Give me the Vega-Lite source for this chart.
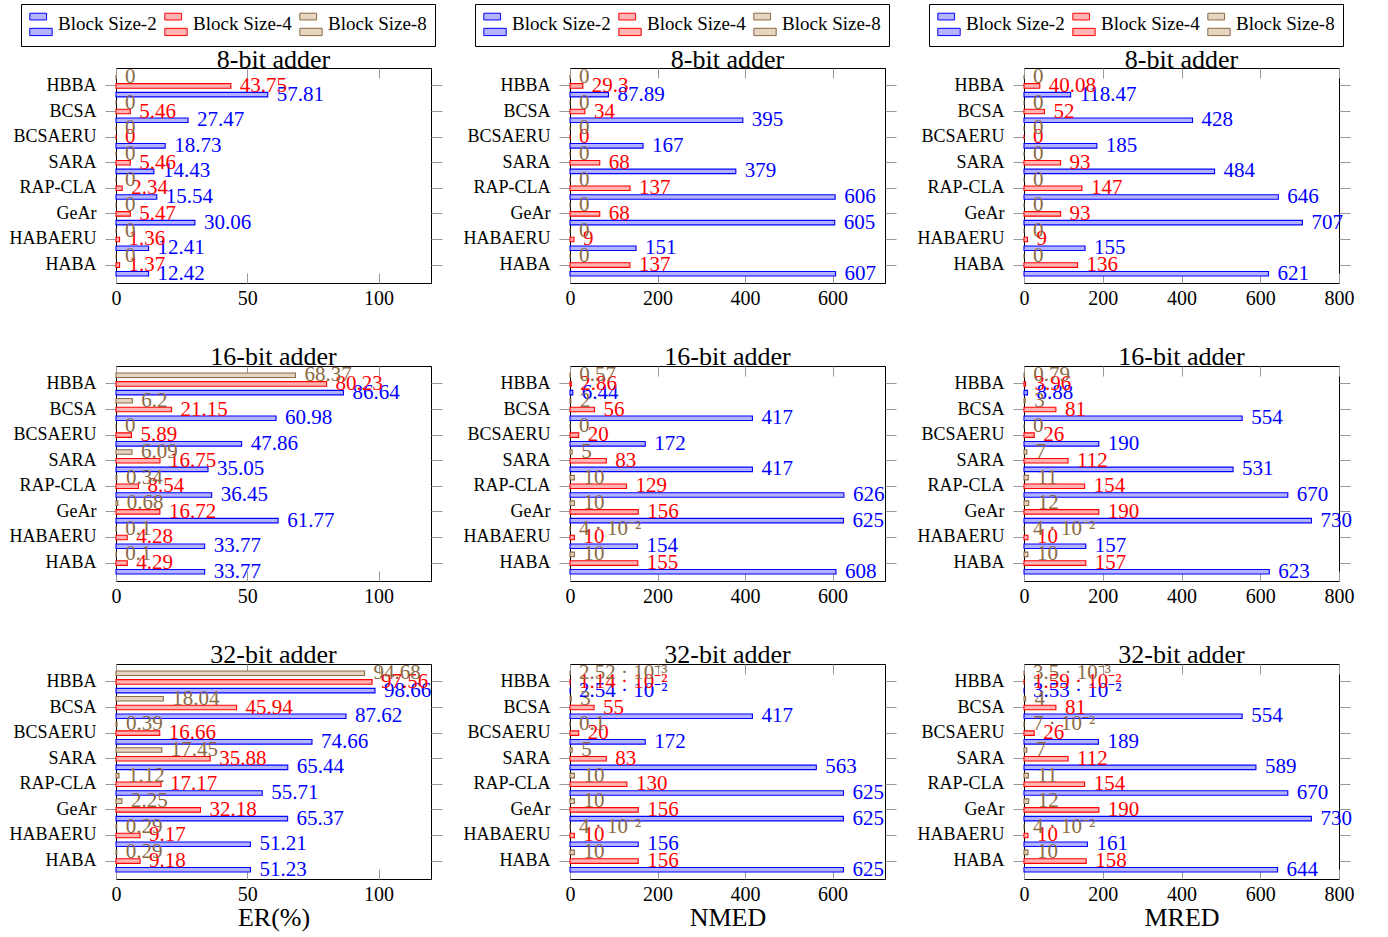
{
"$schema":"https://vega.github.io/schema/vega-lite/v6.json",
"background":"white",
"padding":{"left":8,"top":3,"right":10,"bottom":2},
"datasets":{"d":[
{"p":"E8","a":"HBBA","s":"Block Size-2","v":57.81,"t":"57.81"},{"p":"E8","a":"HBBA","s":"Block Size-4","v":43.75,"t":"43.75"},{"p":"E8","a":"HBBA","s":"Block Size-8","v":0,"t":"0"},
{"p":"E8","a":"BCSA","s":"Block Size-2","v":27.47,"t":"27.47"},{"p":"E8","a":"BCSA","s":"Block Size-4","v":5.46,"t":"5.46"},{"p":"E8","a":"BCSA","s":"Block Size-8","v":0,"t":"0"},
{"p":"E8","a":"BCSAERU","s":"Block Size-2","v":18.73,"t":"18.73"},{"p":"E8","a":"BCSAERU","s":"Block Size-4","v":0,"t":"0"},{"p":"E8","a":"BCSAERU","s":"Block Size-8","v":0,"t":"0"},
{"p":"E8","a":"SARA","s":"Block Size-2","v":14.43,"t":"14.43"},{"p":"E8","a":"SARA","s":"Block Size-4","v":5.46,"t":"5.46"},{"p":"E8","a":"SARA","s":"Block Size-8","v":0,"t":"0"},
{"p":"E8","a":"RAP-CLA","s":"Block Size-2","v":15.54,"t":"15.54"},{"p":"E8","a":"RAP-CLA","s":"Block Size-4","v":2.34,"t":"2.34"},{"p":"E8","a":"RAP-CLA","s":"Block Size-8","v":0,"t":"0"},
{"p":"E8","a":"GeAr","s":"Block Size-2","v":30.06,"t":"30.06"},{"p":"E8","a":"GeAr","s":"Block Size-4","v":5.47,"t":"5.47"},{"p":"E8","a":"GeAr","s":"Block Size-8","v":0,"t":"0"},
{"p":"E8","a":"HABAERU","s":"Block Size-2","v":12.41,"t":"12.41"},{"p":"E8","a":"HABAERU","s":"Block Size-4","v":1.36,"t":"1.36"},{"p":"E8","a":"HABAERU","s":"Block Size-8","v":0,"t":"0"},
{"p":"E8","a":"HABA","s":"Block Size-2","v":12.42,"t":"12.42"},{"p":"E8","a":"HABA","s":"Block Size-4","v":1.37,"t":"1.37"},{"p":"E8","a":"HABA","s":"Block Size-8","v":0,"t":"0"},

{"p":"N8","a":"HBBA","s":"Block Size-2","v":87.89,"t":"87.89"},{"p":"N8","a":"HBBA","s":"Block Size-4","v":29.3,"t":"29.3"},{"p":"N8","a":"HBBA","s":"Block Size-8","v":0,"t":"0"},
{"p":"N8","a":"BCSA","s":"Block Size-2","v":395,"t":"395"},{"p":"N8","a":"BCSA","s":"Block Size-4","v":34,"t":"34"},{"p":"N8","a":"BCSA","s":"Block Size-8","v":0,"t":"0"},
{"p":"N8","a":"BCSAERU","s":"Block Size-2","v":167,"t":"167"},{"p":"N8","a":"BCSAERU","s":"Block Size-4","v":0,"t":"0"},{"p":"N8","a":"BCSAERU","s":"Block Size-8","v":0,"t":"0"},
{"p":"N8","a":"SARA","s":"Block Size-2","v":379,"t":"379"},{"p":"N8","a":"SARA","s":"Block Size-4","v":68,"t":"68"},{"p":"N8","a":"SARA","s":"Block Size-8","v":0,"t":"0"},
{"p":"N8","a":"RAP-CLA","s":"Block Size-2","v":606,"t":"606"},{"p":"N8","a":"RAP-CLA","s":"Block Size-4","v":137,"t":"137"},{"p":"N8","a":"RAP-CLA","s":"Block Size-8","v":0,"t":"0"},
{"p":"N8","a":"GeAr","s":"Block Size-2","v":605,"t":"605"},{"p":"N8","a":"GeAr","s":"Block Size-4","v":68,"t":"68"},{"p":"N8","a":"GeAr","s":"Block Size-8","v":0,"t":"0"},
{"p":"N8","a":"HABAERU","s":"Block Size-2","v":151,"t":"151"},{"p":"N8","a":"HABAERU","s":"Block Size-4","v":9,"t":"9"},{"p":"N8","a":"HABAERU","s":"Block Size-8","v":0,"t":"0"},
{"p":"N8","a":"HABA","s":"Block Size-2","v":607,"t":"607"},{"p":"N8","a":"HABA","s":"Block Size-4","v":137,"t":"137"},{"p":"N8","a":"HABA","s":"Block Size-8","v":0,"t":"0"},

{"p":"M8","a":"HBBA","s":"Block Size-2","v":118.47,"t":"118.47"},{"p":"M8","a":"HBBA","s":"Block Size-4","v":40.08,"t":"40.08"},{"p":"M8","a":"HBBA","s":"Block Size-8","v":0,"t":"0"},
{"p":"M8","a":"BCSA","s":"Block Size-2","v":428,"t":"428"},{"p":"M8","a":"BCSA","s":"Block Size-4","v":52,"t":"52"},{"p":"M8","a":"BCSA","s":"Block Size-8","v":0,"t":"0"},
{"p":"M8","a":"BCSAERU","s":"Block Size-2","v":185,"t":"185"},{"p":"M8","a":"BCSAERU","s":"Block Size-4","v":0,"t":"0"},{"p":"M8","a":"BCSAERU","s":"Block Size-8","v":0,"t":"0"},
{"p":"M8","a":"SARA","s":"Block Size-2","v":484,"t":"484"},{"p":"M8","a":"SARA","s":"Block Size-4","v":93,"t":"93"},{"p":"M8","a":"SARA","s":"Block Size-8","v":0,"t":"0"},
{"p":"M8","a":"RAP-CLA","s":"Block Size-2","v":646,"t":"646"},{"p":"M8","a":"RAP-CLA","s":"Block Size-4","v":147,"t":"147"},{"p":"M8","a":"RAP-CLA","s":"Block Size-8","v":0,"t":"0"},
{"p":"M8","a":"GeAr","s":"Block Size-2","v":707,"t":"707"},{"p":"M8","a":"GeAr","s":"Block Size-4","v":93,"t":"93"},{"p":"M8","a":"GeAr","s":"Block Size-8","v":0,"t":"0"},
{"p":"M8","a":"HABAERU","s":"Block Size-2","v":155,"t":"155"},{"p":"M8","a":"HABAERU","s":"Block Size-4","v":9,"t":"9"},{"p":"M8","a":"HABAERU","s":"Block Size-8","v":0,"t":"0"},
{"p":"M8","a":"HABA","s":"Block Size-2","v":621,"t":"621"},{"p":"M8","a":"HABA","s":"Block Size-4","v":136,"t":"136"},{"p":"M8","a":"HABA","s":"Block Size-8","v":0,"t":"0"},

{"p":"E16","a":"HBBA","s":"Block Size-2","v":86.64,"t":"86.64"},{"p":"E16","a":"HBBA","s":"Block Size-4","v":80.23,"t":"80.23"},{"p":"E16","a":"HBBA","s":"Block Size-8","v":68.37,"t":"68.37"},
{"p":"E16","a":"BCSA","s":"Block Size-2","v":60.98,"t":"60.98"},{"p":"E16","a":"BCSA","s":"Block Size-4","v":21.15,"t":"21.15"},{"p":"E16","a":"BCSA","s":"Block Size-8","v":6.2,"t":"6.2"},
{"p":"E16","a":"BCSAERU","s":"Block Size-2","v":47.86,"t":"47.86"},{"p":"E16","a":"BCSAERU","s":"Block Size-4","v":5.89,"t":"5.89"},{"p":"E16","a":"BCSAERU","s":"Block Size-8","v":0,"t":"0"},
{"p":"E16","a":"SARA","s":"Block Size-2","v":35.05,"t":"35.05"},{"p":"E16","a":"SARA","s":"Block Size-4","v":16.75,"t":"16.75"},{"p":"E16","a":"SARA","s":"Block Size-8","v":6.09,"t":"6.09"},
{"p":"E16","a":"RAP-CLA","s":"Block Size-2","v":36.45,"t":"36.45"},{"p":"E16","a":"RAP-CLA","s":"Block Size-4","v":8.54,"t":"8.54"},{"p":"E16","a":"RAP-CLA","s":"Block Size-8","v":0.34,"t":"0.34"},
{"p":"E16","a":"GeAr","s":"Block Size-2","v":61.77,"t":"61.77"},{"p":"E16","a":"GeAr","s":"Block Size-4","v":16.72,"t":"16.72"},{"p":"E16","a":"GeAr","s":"Block Size-8","v":0.68,"t":"0.68"},
{"p":"E16","a":"HABAERU","s":"Block Size-2","v":33.77,"t":"33.77"},{"p":"E16","a":"HABAERU","s":"Block Size-4","v":4.28,"t":"4.28"},{"p":"E16","a":"HABAERU","s":"Block Size-8","v":0.1,"t":"0.1"},
{"p":"E16","a":"HABA","s":"Block Size-2","v":33.77,"t":"33.77"},{"p":"E16","a":"HABA","s":"Block Size-4","v":4.29,"t":"4.29"},{"p":"E16","a":"HABA","s":"Block Size-8","v":0.1,"t":"0.1"},

{"p":"N16","a":"HBBA","s":"Block Size-2","v":6.44,"t":"6.44"},{"p":"N16","a":"HBBA","s":"Block Size-4","v":2.86,"t":"2.86"},{"p":"N16","a":"HBBA","s":"Block Size-8","v":0.57,"t":"0.57"},
{"p":"N16","a":"BCSA","s":"Block Size-2","v":417,"t":"417"},{"p":"N16","a":"BCSA","s":"Block Size-4","v":56,"t":"56"},{"p":"N16","a":"BCSA","s":"Block Size-8","v":2,"t":"2"},
{"p":"N16","a":"BCSAERU","s":"Block Size-2","v":172,"t":"172"},{"p":"N16","a":"BCSAERU","s":"Block Size-4","v":20,"t":"20"},{"p":"N16","a":"BCSAERU","s":"Block Size-8","v":0,"t":"0"},
{"p":"N16","a":"SARA","s":"Block Size-2","v":417,"t":"417"},{"p":"N16","a":"SARA","s":"Block Size-4","v":83,"t":"83"},{"p":"N16","a":"SARA","s":"Block Size-8","v":5,"t":"5"},
{"p":"N16","a":"RAP-CLA","s":"Block Size-2","v":626,"t":"626"},{"p":"N16","a":"RAP-CLA","s":"Block Size-4","v":129,"t":"129"},{"p":"N16","a":"RAP-CLA","s":"Block Size-8","v":10,"t":"10"},
{"p":"N16","a":"GeAr","s":"Block Size-2","v":625,"t":"625"},{"p":"N16","a":"GeAr","s":"Block Size-4","v":156,"t":"156"},{"p":"N16","a":"GeAr","s":"Block Size-8","v":10,"t":"10"},
{"p":"N16","a":"HABAERU","s":"Block Size-2","v":154,"t":"154"},{"p":"N16","a":"HABAERU","s":"Block Size-4","v":10,"t":"10"},{"p":"N16","a":"HABAERU","s":"Block Size-8","v":0.04,"t":"4 · 10⁻²"},
{"p":"N16","a":"HABA","s":"Block Size-2","v":608,"t":"608"},{"p":"N16","a":"HABA","s":"Block Size-4","v":155,"t":"155"},{"p":"N16","a":"HABA","s":"Block Size-8","v":10,"t":"10"},

{"p":"M16","a":"HBBA","s":"Block Size-2","v":8.88,"t":"8.88"},{"p":"M16","a":"HBBA","s":"Block Size-4","v":3.96,"t":"3.96"},{"p":"M16","a":"HBBA","s":"Block Size-8","v":0.79,"t":"0.79"},
{"p":"M16","a":"BCSA","s":"Block Size-2","v":554,"t":"554"},{"p":"M16","a":"BCSA","s":"Block Size-4","v":81,"t":"81"},{"p":"M16","a":"BCSA","s":"Block Size-8","v":3,"t":"3"},
{"p":"M16","a":"BCSAERU","s":"Block Size-2","v":190,"t":"190"},{"p":"M16","a":"BCSAERU","s":"Block Size-4","v":26,"t":"26"},{"p":"M16","a":"BCSAERU","s":"Block Size-8","v":0,"t":"0"},
{"p":"M16","a":"SARA","s":"Block Size-2","v":531,"t":"531"},{"p":"M16","a":"SARA","s":"Block Size-4","v":112,"t":"112"},{"p":"M16","a":"SARA","s":"Block Size-8","v":7,"t":"7"},
{"p":"M16","a":"RAP-CLA","s":"Block Size-2","v":670,"t":"670"},{"p":"M16","a":"RAP-CLA","s":"Block Size-4","v":154,"t":"154"},{"p":"M16","a":"RAP-CLA","s":"Block Size-8","v":11,"t":"11"},
{"p":"M16","a":"GeAr","s":"Block Size-2","v":730,"t":"730"},{"p":"M16","a":"GeAr","s":"Block Size-4","v":190,"t":"190"},{"p":"M16","a":"GeAr","s":"Block Size-8","v":12,"t":"12"},
{"p":"M16","a":"HABAERU","s":"Block Size-2","v":157,"t":"157"},{"p":"M16","a":"HABAERU","s":"Block Size-4","v":10,"t":"10"},{"p":"M16","a":"HABAERU","s":"Block Size-8","v":0.04,"t":"4 · 10⁻²"},
{"p":"M16","a":"HABA","s":"Block Size-2","v":623,"t":"623"},{"p":"M16","a":"HABA","s":"Block Size-4","v":157,"t":"157"},{"p":"M16","a":"HABA","s":"Block Size-8","v":10,"t":"10"},

{"p":"E32","a":"HBBA","s":"Block Size-2","v":98.66,"t":"98.66"},{"p":"E32","a":"HBBA","s":"Block Size-4","v":97.56,"t":"97.56"},{"p":"E32","a":"HBBA","s":"Block Size-8","v":94.68,"t":"94.68"},
{"p":"E32","a":"BCSA","s":"Block Size-2","v":87.62,"t":"87.62"},{"p":"E32","a":"BCSA","s":"Block Size-4","v":45.94,"t":"45.94"},{"p":"E32","a":"BCSA","s":"Block Size-8","v":18.04,"t":"18.04"},
{"p":"E32","a":"BCSAERU","s":"Block Size-2","v":74.66,"t":"74.66"},{"p":"E32","a":"BCSAERU","s":"Block Size-4","v":16.66,"t":"16.66"},{"p":"E32","a":"BCSAERU","s":"Block Size-8","v":0.39,"t":"0.39"},
{"p":"E32","a":"SARA","s":"Block Size-2","v":65.44,"t":"65.44"},{"p":"E32","a":"SARA","s":"Block Size-4","v":35.88,"t":"35.88"},{"p":"E32","a":"SARA","s":"Block Size-8","v":17.45,"t":"17.45"},
{"p":"E32","a":"RAP-CLA","s":"Block Size-2","v":55.71,"t":"55.71"},{"p":"E32","a":"RAP-CLA","s":"Block Size-4","v":17.17,"t":"17.17"},{"p":"E32","a":"RAP-CLA","s":"Block Size-8","v":1.12,"t":"1.12"},
{"p":"E32","a":"GeAr","s":"Block Size-2","v":65.37,"t":"65.37"},{"p":"E32","a":"GeAr","s":"Block Size-4","v":32.18,"t":"32.18"},{"p":"E32","a":"GeAr","s":"Block Size-8","v":2.25,"t":"2.25"},
{"p":"E32","a":"HABAERU","s":"Block Size-2","v":51.21,"t":"51.21"},{"p":"E32","a":"HABAERU","s":"Block Size-4","v":9.17,"t":"9.17"},{"p":"E32","a":"HABAERU","s":"Block Size-8","v":0.29,"t":"0.29"},
{"p":"E32","a":"HABA","s":"Block Size-2","v":51.23,"t":"51.23"},{"p":"E32","a":"HABA","s":"Block Size-4","v":9.18,"t":"9.18"},{"p":"E32","a":"HABA","s":"Block Size-8","v":0.29,"t":"0.29"},

{"p":"N32","a":"HBBA","s":"Block Size-2","v":0.0254,"t":"2.54 · 10⁻²"},{"p":"N32","a":"HBBA","s":"Block Size-4","v":0.0114,"t":"1.14 · 10⁻²"},{"p":"N32","a":"HBBA","s":"Block Size-8","v":0.00252,"t":"2.52 · 10⁻³"},
{"p":"N32","a":"BCSA","s":"Block Size-2","v":417,"t":"417"},{"p":"N32","a":"BCSA","s":"Block Size-4","v":55,"t":"55"},{"p":"N32","a":"BCSA","s":"Block Size-8","v":3,"t":"3"},
{"p":"N32","a":"BCSAERU","s":"Block Size-2","v":172,"t":"172"},{"p":"N32","a":"BCSAERU","s":"Block Size-4","v":20,"t":"20"},{"p":"N32","a":"BCSAERU","s":"Block Size-8","v":0.1,"t":"0.1"},
{"p":"N32","a":"SARA","s":"Block Size-2","v":563,"t":"563"},{"p":"N32","a":"SARA","s":"Block Size-4","v":83,"t":"83"},{"p":"N32","a":"SARA","s":"Block Size-8","v":5,"t":"5"},
{"p":"N32","a":"RAP-CLA","s":"Block Size-2","v":625,"t":"625"},{"p":"N32","a":"RAP-CLA","s":"Block Size-4","v":130,"t":"130"},{"p":"N32","a":"RAP-CLA","s":"Block Size-8","v":10,"t":"10"},
{"p":"N32","a":"GeAr","s":"Block Size-2","v":625,"t":"625"},{"p":"N32","a":"GeAr","s":"Block Size-4","v":156,"t":"156"},{"p":"N32","a":"GeAr","s":"Block Size-8","v":10,"t":"10"},
{"p":"N32","a":"HABAERU","s":"Block Size-2","v":156,"t":"156"},{"p":"N32","a":"HABAERU","s":"Block Size-4","v":10,"t":"10"},{"p":"N32","a":"HABAERU","s":"Block Size-8","v":0.04,"t":"4 · 10⁻²"},
{"p":"N32","a":"HABA","s":"Block Size-2","v":625,"t":"625"},{"p":"N32","a":"HABA","s":"Block Size-4","v":156,"t":"156"},{"p":"N32","a":"HABA","s":"Block Size-8","v":10,"t":"10"},

{"p":"M32","a":"HBBA","s":"Block Size-2","v":0.0353,"t":"3.53 · 10⁻²"},{"p":"M32","a":"HBBA","s":"Block Size-4","v":0.0159,"t":"1.59 · 10⁻²"},{"p":"M32","a":"HBBA","s":"Block Size-8","v":0.0035,"t":"3.5 · 10⁻³"},
{"p":"M32","a":"BCSA","s":"Block Size-2","v":554,"t":"554"},{"p":"M32","a":"BCSA","s":"Block Size-4","v":81,"t":"81"},{"p":"M32","a":"BCSA","s":"Block Size-8","v":4,"t":"4"},
{"p":"M32","a":"BCSAERU","s":"Block Size-2","v":189,"t":"189"},{"p":"M32","a":"BCSAERU","s":"Block Size-4","v":26,"t":"26"},{"p":"M32","a":"BCSAERU","s":"Block Size-8","v":0.07,"t":"7 · 10⁻²"},
{"p":"M32","a":"SARA","s":"Block Size-2","v":589,"t":"589"},{"p":"M32","a":"SARA","s":"Block Size-4","v":112,"t":"112"},{"p":"M32","a":"SARA","s":"Block Size-8","v":7,"t":"7"},
{"p":"M32","a":"RAP-CLA","s":"Block Size-2","v":670,"t":"670"},{"p":"M32","a":"RAP-CLA","s":"Block Size-4","v":154,"t":"154"},{"p":"M32","a":"RAP-CLA","s":"Block Size-8","v":11,"t":"11"},
{"p":"M32","a":"GeAr","s":"Block Size-2","v":730,"t":"730"},{"p":"M32","a":"GeAr","s":"Block Size-4","v":190,"t":"190"},{"p":"M32","a":"GeAr","s":"Block Size-8","v":12,"t":"12"},
{"p":"M32","a":"HABAERU","s":"Block Size-2","v":161,"t":"161"},{"p":"M32","a":"HABAERU","s":"Block Size-4","v":10,"t":"10"},{"p":"M32","a":"HABAERU","s":"Block Size-8","v":0.04,"t":"4 · 10⁻²"},
{"p":"M32","a":"HABA","s":"Block Size-2","v":644,"t":"644"},{"p":"M32","a":"HABA","s":"Block Size-4","v":158,"t":"158"},{"p":"M32","a":"HABA","s":"Block Size-8","v":10,"t":"10"}
]},
"data":{"name":"d"},
"columns":3,
"spacing":{"row":83,"column":139},
"bounds":"flush",
"resolve":{"scale":{"fill":"independent","stroke":"independent"}},
"concat":[
{"width":315,"height":215,"title":{"text":"8-bit adder","offset":-64,"dy":5},
 "transform":[{"filter":"datum.p==='E8'"}],
 "encoding":{"y":{"field":"a","type":"nominal","sort":["HBBA","BCSA","BCSAERU","SARA","RAP-CLA","GeAr","HABAERU","HABA"],"scale":{"paddingInner":0,"paddingOuter":0.2},"title":null},
  "yOffset":{"field":"s","type":"nominal","sort":["Block Size-8","Block Size-4","Block Size-2"],"scale":{"paddingInner":0.48,"paddingOuter":0.21}},
  "x":{"field":"v","type":"quantitative","scale":{"domain":[0,120],"nice":false},"axis":{"values":[0,50,100]},"title":null}},
 "layer":[
  {"mark":{"type":"bar","strokeWidth":1.1},"encoding":{
    "fill":{"field":"s","type":"nominal","scale":{"range":["#b3b3ff","#ffb3b3","#e6d5c0"]},"legend":{"orient":"none","legendX":-95,"legendY":-64,"direction":"horizontal","title":null}},
    "stroke":{"field":"s","type":"nominal","scale":{"range":["#0000ff","#ff0000","#8b6a45"]},"legend":{"orient":"none","legendX":-95,"legendY":-64,"direction":"horizontal","title":null}}}},
  {"mark":{"type":"text","align":"left","baseline":"middle","dx":9,"font":"Liberation Serif","fontSize":21},"encoding":{"text":{"field":"t","type":"nominal"},
    "color":{"condition":[{"test":"datum.s==='Block Size-2'","value":"#0000ff"},{"test":"datum.s==='Block Size-4'","value":"#ff0000"}],"value":"#8b6a45"},
    "x":{"field":"v","type":"quantitative","scale":{"domain":[0,120],"nice":false},"axis":{"orient":"top","labels":false,"values":[0,50,100]},"title":null},
    "y":{"field":"a","type":"nominal","sort":["HBBA","BCSA","BCSAERU","SARA","RAP-CLA","GeAr","HABAERU","HABA"],"axis":{"orient":"right","labels":false},"title":null}}}
 ],
 "resolve":{"axis":{"x":"independent","y":"independent"}}},
{"width":315,"height":215,"title":{"text":"8-bit adder","offset":-64,"dy":5},
 "transform":[{"filter":"datum.p==='N8'"}],
 "encoding":{"y":{"field":"a","type":"nominal","sort":["HBBA","BCSA","BCSAERU","SARA","RAP-CLA","GeAr","HABAERU","HABA"],"scale":{"paddingInner":0,"paddingOuter":0.2},"title":null},
  "yOffset":{"field":"s","type":"nominal","sort":["Block Size-8","Block Size-4","Block Size-2"],"scale":{"paddingInner":0.48,"paddingOuter":0.21}},
  "x":{"field":"v","type":"quantitative","scale":{"domain":[0,720],"nice":false},"axis":{"values":[0,200,400,600]},"title":null}},
 "layer":[
  {"mark":{"type":"bar","strokeWidth":1.1},"encoding":{
    "fill":{"field":"s","type":"nominal","scale":{"range":["#b3b3ff","#ffb3b3","#e6d5c0"]},"legend":{"orient":"none","legendX":-95,"legendY":-64,"direction":"horizontal","title":null}},
    "stroke":{"field":"s","type":"nominal","scale":{"range":["#0000ff","#ff0000","#8b6a45"]},"legend":{"orient":"none","legendX":-95,"legendY":-64,"direction":"horizontal","title":null}}}},
  {"mark":{"type":"text","align":"left","baseline":"middle","dx":9,"font":"Liberation Serif","fontSize":21},"encoding":{"text":{"field":"t","type":"nominal"},
    "color":{"condition":[{"test":"datum.s==='Block Size-2'","value":"#0000ff"},{"test":"datum.s==='Block Size-4'","value":"#ff0000"}],"value":"#8b6a45"},
    "x":{"field":"v","type":"quantitative","scale":{"domain":[0,720],"nice":false},"axis":{"orient":"top","labels":false,"values":[0,200,400,600]},"title":null},
    "y":{"field":"a","type":"nominal","sort":["HBBA","BCSA","BCSAERU","SARA","RAP-CLA","GeAr","HABAERU","HABA"],"axis":{"orient":"right","labels":false},"title":null}}}
 ],
 "resolve":{"axis":{"x":"independent","y":"independent"}}},
{"width":315,"height":215,"title":{"text":"8-bit adder","offset":-64,"dy":5},
 "transform":[{"filter":"datum.p==='M8'"}],
 "encoding":{"y":{"field":"a","type":"nominal","sort":["HBBA","BCSA","BCSAERU","SARA","RAP-CLA","GeAr","HABAERU","HABA"],"scale":{"paddingInner":0,"paddingOuter":0.2},"title":null},
  "yOffset":{"field":"s","type":"nominal","sort":["Block Size-8","Block Size-4","Block Size-2"],"scale":{"paddingInner":0.48,"paddingOuter":0.21}},
  "x":{"field":"v","type":"quantitative","scale":{"domain":[0,800],"nice":false},"axis":{"values":[0,200,400,600,800]},"title":null}},
 "layer":[
  {"mark":{"type":"bar","strokeWidth":1.1},"encoding":{
    "fill":{"field":"s","type":"nominal","scale":{"range":["#b3b3ff","#ffb3b3","#e6d5c0"]},"legend":{"orient":"none","legendX":-95,"legendY":-64,"direction":"horizontal","title":null}},
    "stroke":{"field":"s","type":"nominal","scale":{"range":["#0000ff","#ff0000","#8b6a45"]},"legend":{"orient":"none","legendX":-95,"legendY":-64,"direction":"horizontal","title":null}}}},
  {"mark":{"type":"text","align":"left","baseline":"middle","dx":9,"font":"Liberation Serif","fontSize":21},"encoding":{"text":{"field":"t","type":"nominal"},
    "color":{"condition":[{"test":"datum.s==='Block Size-2'","value":"#0000ff"},{"test":"datum.s==='Block Size-4'","value":"#ff0000"}],"value":"#8b6a45"},
    "x":{"field":"v","type":"quantitative","scale":{"domain":[0,800],"nice":false},"axis":{"orient":"top","labels":false,"values":[0,200,400,600,800]},"title":null},
    "y":{"field":"a","type":"nominal","sort":["HBBA","BCSA","BCSAERU","SARA","RAP-CLA","GeAr","HABAERU","HABA"],"axis":{"orient":"right","labels":false},"title":null}}}
 ],
 "resolve":{"axis":{"x":"independent","y":"independent"}}},

{"width":315,"height":215,"title":{"text":"16-bit adder","dy":10},
 "transform":[{"filter":"datum.p==='E16'"}],
 "encoding":{"y":{"field":"a","type":"nominal","sort":["HBBA","BCSA","BCSAERU","SARA","RAP-CLA","GeAr","HABAERU","HABA"],"scale":{"paddingInner":0,"paddingOuter":0.2},"title":null},
  "yOffset":{"field":"s","type":"nominal","sort":["Block Size-8","Block Size-4","Block Size-2"],"scale":{"paddingInner":0.48,"paddingOuter":0.21}},
  "x":{"field":"v","type":"quantitative","scale":{"domain":[0,120],"nice":false},"axis":{"values":[0,50,100]},"title":null}},
 "layer":[
  {"mark":{"type":"bar","strokeWidth":1.1},"encoding":{
    "fill":{"field":"s","type":"nominal","scale":{"range":["#b3b3ff","#ffb3b3","#e6d5c0"]},"legend":null},
    "stroke":{"field":"s","type":"nominal","scale":{"range":["#0000ff","#ff0000","#8b6a45"]},"legend":null}}},
  {"mark":{"type":"text","align":"left","baseline":"middle","dx":9,"font":"Liberation Serif","fontSize":21},"encoding":{"text":{"field":"t","type":"nominal"},
    "color":{"condition":[{"test":"datum.s==='Block Size-2'","value":"#0000ff"},{"test":"datum.s==='Block Size-4'","value":"#ff0000"}],"value":"#8b6a45"},
    "x":{"field":"v","type":"quantitative","scale":{"domain":[0,120],"nice":false},"axis":{"orient":"top","labels":false,"values":[0,50,100]},"title":null},
    "y":{"field":"a","type":"nominal","sort":["HBBA","BCSA","BCSAERU","SARA","RAP-CLA","GeAr","HABAERU","HABA"],"axis":{"orient":"right","labels":false},"title":null}}}
 ],
 "resolve":{"axis":{"x":"independent","y":"independent"}}},
{"width":315,"height":215,"title":{"text":"16-bit adder","dy":10},
 "transform":[{"filter":"datum.p==='N16'"}],
 "encoding":{"y":{"field":"a","type":"nominal","sort":["HBBA","BCSA","BCSAERU","SARA","RAP-CLA","GeAr","HABAERU","HABA"],"scale":{"paddingInner":0,"paddingOuter":0.2},"title":null},
  "yOffset":{"field":"s","type":"nominal","sort":["Block Size-8","Block Size-4","Block Size-2"],"scale":{"paddingInner":0.48,"paddingOuter":0.21}},
  "x":{"field":"v","type":"quantitative","scale":{"domain":[0,720],"nice":false},"axis":{"values":[0,200,400,600]},"title":null}},
 "layer":[
  {"mark":{"type":"bar","strokeWidth":1.1},"encoding":{
    "fill":{"field":"s","type":"nominal","scale":{"range":["#b3b3ff","#ffb3b3","#e6d5c0"]},"legend":null},
    "stroke":{"field":"s","type":"nominal","scale":{"range":["#0000ff","#ff0000","#8b6a45"]},"legend":null}}},
  {"mark":{"type":"text","align":"left","baseline":"middle","dx":9,"font":"Liberation Serif","fontSize":21},"encoding":{"text":{"field":"t","type":"nominal"},
    "color":{"condition":[{"test":"datum.s==='Block Size-2'","value":"#0000ff"},{"test":"datum.s==='Block Size-4'","value":"#ff0000"}],"value":"#8b6a45"},
    "x":{"field":"v","type":"quantitative","scale":{"domain":[0,720],"nice":false},"axis":{"orient":"top","labels":false,"values":[0,200,400,600]},"title":null},
    "y":{"field":"a","type":"nominal","sort":["HBBA","BCSA","BCSAERU","SARA","RAP-CLA","GeAr","HABAERU","HABA"],"axis":{"orient":"right","labels":false},"title":null}}}
 ],
 "resolve":{"axis":{"x":"independent","y":"independent"}}},
{"width":315,"height":215,"title":{"text":"16-bit adder","dy":10},
 "transform":[{"filter":"datum.p==='M16'"}],
 "encoding":{"y":{"field":"a","type":"nominal","sort":["HBBA","BCSA","BCSAERU","SARA","RAP-CLA","GeAr","HABAERU","HABA"],"scale":{"paddingInner":0,"paddingOuter":0.2},"title":null},
  "yOffset":{"field":"s","type":"nominal","sort":["Block Size-8","Block Size-4","Block Size-2"],"scale":{"paddingInner":0.48,"paddingOuter":0.21}},
  "x":{"field":"v","type":"quantitative","scale":{"domain":[0,800],"nice":false},"axis":{"values":[0,200,400,600,800]},"title":null}},
 "layer":[
  {"mark":{"type":"bar","strokeWidth":1.1},"encoding":{
    "fill":{"field":"s","type":"nominal","scale":{"range":["#b3b3ff","#ffb3b3","#e6d5c0"]},"legend":null},
    "stroke":{"field":"s","type":"nominal","scale":{"range":["#0000ff","#ff0000","#8b6a45"]},"legend":null}}},
  {"mark":{"type":"text","align":"left","baseline":"middle","dx":9,"font":"Liberation Serif","fontSize":21},"encoding":{"text":{"field":"t","type":"nominal"},
    "color":{"condition":[{"test":"datum.s==='Block Size-2'","value":"#0000ff"},{"test":"datum.s==='Block Size-4'","value":"#ff0000"}],"value":"#8b6a45"},
    "x":{"field":"v","type":"quantitative","scale":{"domain":[0,800],"nice":false},"axis":{"orient":"top","labels":false,"values":[0,200,400,600,800]},"title":null},
    "y":{"field":"a","type":"nominal","sort":["HBBA","BCSA","BCSAERU","SARA","RAP-CLA","GeAr","HABAERU","HABA"],"axis":{"orient":"right","labels":false},"title":null}}}
 ],
 "resolve":{"axis":{"x":"independent","y":"independent"}}},

{"width":315,"height":215,"title":{"text":"32-bit adder","dy":10},
 "transform":[{"filter":"datum.p==='E32'"}],
 "encoding":{"y":{"field":"a","type":"nominal","sort":["HBBA","BCSA","BCSAERU","SARA","RAP-CLA","GeAr","HABAERU","HABA"],"scale":{"paddingInner":0,"paddingOuter":0.2},"title":null},
  "yOffset":{"field":"s","type":"nominal","sort":["Block Size-8","Block Size-4","Block Size-2"],"scale":{"paddingInner":0.48,"paddingOuter":0.21}},
  "x":{"field":"v","type":"quantitative","scale":{"domain":[0,120],"nice":false},"axis":{"values":[0,50,100]},"title":"ER(%)"}},
 "layer":[
  {"mark":{"type":"bar","strokeWidth":1.1},"encoding":{
    "fill":{"field":"s","type":"nominal","scale":{"range":["#b3b3ff","#ffb3b3","#e6d5c0"]},"legend":null},
    "stroke":{"field":"s","type":"nominal","scale":{"range":["#0000ff","#ff0000","#8b6a45"]},"legend":null}}},
  {"mark":{"type":"text","align":"left","baseline":"middle","dx":9,"font":"Liberation Serif","fontSize":21},"encoding":{"text":{"field":"t","type":"nominal"},
    "color":{"condition":[{"test":"datum.s==='Block Size-2'","value":"#0000ff"},{"test":"datum.s==='Block Size-4'","value":"#ff0000"}],"value":"#8b6a45"},
    "x":{"field":"v","type":"quantitative","scale":{"domain":[0,120],"nice":false},"axis":{"orient":"top","labels":false,"values":[0,50,100]},"title":null},
    "y":{"field":"a","type":"nominal","sort":["HBBA","BCSA","BCSAERU","SARA","RAP-CLA","GeAr","HABAERU","HABA"],"axis":{"orient":"right","labels":false},"title":null}}}
 ],
 "resolve":{"axis":{"x":"independent","y":"independent"}}},
{"width":315,"height":215,"title":{"text":"32-bit adder","dy":10},
 "transform":[{"filter":"datum.p==='N32'"}],
 "encoding":{"y":{"field":"a","type":"nominal","sort":["HBBA","BCSA","BCSAERU","SARA","RAP-CLA","GeAr","HABAERU","HABA"],"scale":{"paddingInner":0,"paddingOuter":0.2},"title":null},
  "yOffset":{"field":"s","type":"nominal","sort":["Block Size-8","Block Size-4","Block Size-2"],"scale":{"paddingInner":0.48,"paddingOuter":0.21}},
  "x":{"field":"v","type":"quantitative","scale":{"domain":[0,720],"nice":false},"axis":{"values":[0,200,400,600]},"title":"NMED"}},
 "layer":[
  {"mark":{"type":"bar","strokeWidth":1.1},"encoding":{
    "fill":{"field":"s","type":"nominal","scale":{"range":["#b3b3ff","#ffb3b3","#e6d5c0"]},"legend":null},
    "stroke":{"field":"s","type":"nominal","scale":{"range":["#0000ff","#ff0000","#8b6a45"]},"legend":null}}},
  {"mark":{"type":"text","align":"left","baseline":"middle","dx":9,"font":"Liberation Serif","fontSize":21},"encoding":{"text":{"field":"t","type":"nominal"},
    "color":{"condition":[{"test":"datum.s==='Block Size-2'","value":"#0000ff"},{"test":"datum.s==='Block Size-4'","value":"#ff0000"}],"value":"#8b6a45"},
    "x":{"field":"v","type":"quantitative","scale":{"domain":[0,720],"nice":false},"axis":{"orient":"top","labels":false,"values":[0,200,400,600]},"title":null},
    "y":{"field":"a","type":"nominal","sort":["HBBA","BCSA","BCSAERU","SARA","RAP-CLA","GeAr","HABAERU","HABA"],"axis":{"orient":"right","labels":false},"title":null}}}
 ],
 "resolve":{"axis":{"x":"independent","y":"independent"}}},
{"width":315,"height":215,"title":{"text":"32-bit adder","dy":10},
 "transform":[{"filter":"datum.p==='M32'"}],
 "encoding":{"y":{"field":"a","type":"nominal","sort":["HBBA","BCSA","BCSAERU","SARA","RAP-CLA","GeAr","HABAERU","HABA"],"scale":{"paddingInner":0,"paddingOuter":0.2},"title":null},
  "yOffset":{"field":"s","type":"nominal","sort":["Block Size-8","Block Size-4","Block Size-2"],"scale":{"paddingInner":0.48,"paddingOuter":0.21}},
  "x":{"field":"v","type":"quantitative","scale":{"domain":[0,800],"nice":false},"axis":{"values":[0,200,400,600,800]},"title":"MRED"}},
 "layer":[
  {"mark":{"type":"bar","strokeWidth":1.1},"encoding":{
    "fill":{"field":"s","type":"nominal","scale":{"range":["#b3b3ff","#ffb3b3","#e6d5c0"]},"legend":null},
    "stroke":{"field":"s","type":"nominal","scale":{"range":["#0000ff","#ff0000","#8b6a45"]},"legend":null}}},
  {"mark":{"type":"text","align":"left","baseline":"middle","dx":9,"font":"Liberation Serif","fontSize":21},"encoding":{"text":{"field":"t","type":"nominal"},
    "color":{"condition":[{"test":"datum.s==='Block Size-2'","value":"#0000ff"},{"test":"datum.s==='Block Size-4'","value":"#ff0000"}],"value":"#8b6a45"},
    "x":{"field":"v","type":"quantitative","scale":{"domain":[0,800],"nice":false},"axis":{"orient":"top","labels":false,"values":[0,200,400,600,800]},"title":null},
    "y":{"field":"a","type":"nominal","sort":["HBBA","BCSA","BCSAERU","SARA","RAP-CLA","GeAr","HABAERU","HABA"],"axis":{"orient":"right","labels":false},"title":null}}}
 ],
 "resolve":{"axis":{"x":"independent","y":"independent"}}}
],
"config":{
 "view":{"stroke":"black","strokeWidth":1},
 "font":"Liberation Serif",
 "axis":{"domain":false,"grid":false,"tickColor":"#999999","tickWidth":1,"labelFont":"Liberation Serif","labelColor":"black","labelFlush":false,"titleFont":"Liberation Serif","titleFontWeight":"normal","titleColor":"black","titleFontSize":26,"titlePadding":0},
 "axisY":{"labelFontSize":18,"tickSize":11,"labelPadding":9},
 "axisX":{"labelFontSize":20,"tickSize":-10,"labelPadding":15},
 "title":{"font":"Liberation Serif","fontSize":26,"fontWeight":"normal","color":"black","frame":"group","anchor":"middle","baseline":"alphabetic","offset":0},
 "legend":{"strokeColor":"black","padding":8,"fillColor":"white","symbolType":"M-1,-1H0.5V-0.4H-1Z M-1,0.35H1V1H-1Z","symbolSize":500,"symbolStrokeWidth":1,"labelFont":"Liberation Serif","labelFontSize":19,"labelColor":"black","labelOffset":5,"columnPadding":5},
 "text":{"font":"Liberation Serif","fontSize":21}
}
}
